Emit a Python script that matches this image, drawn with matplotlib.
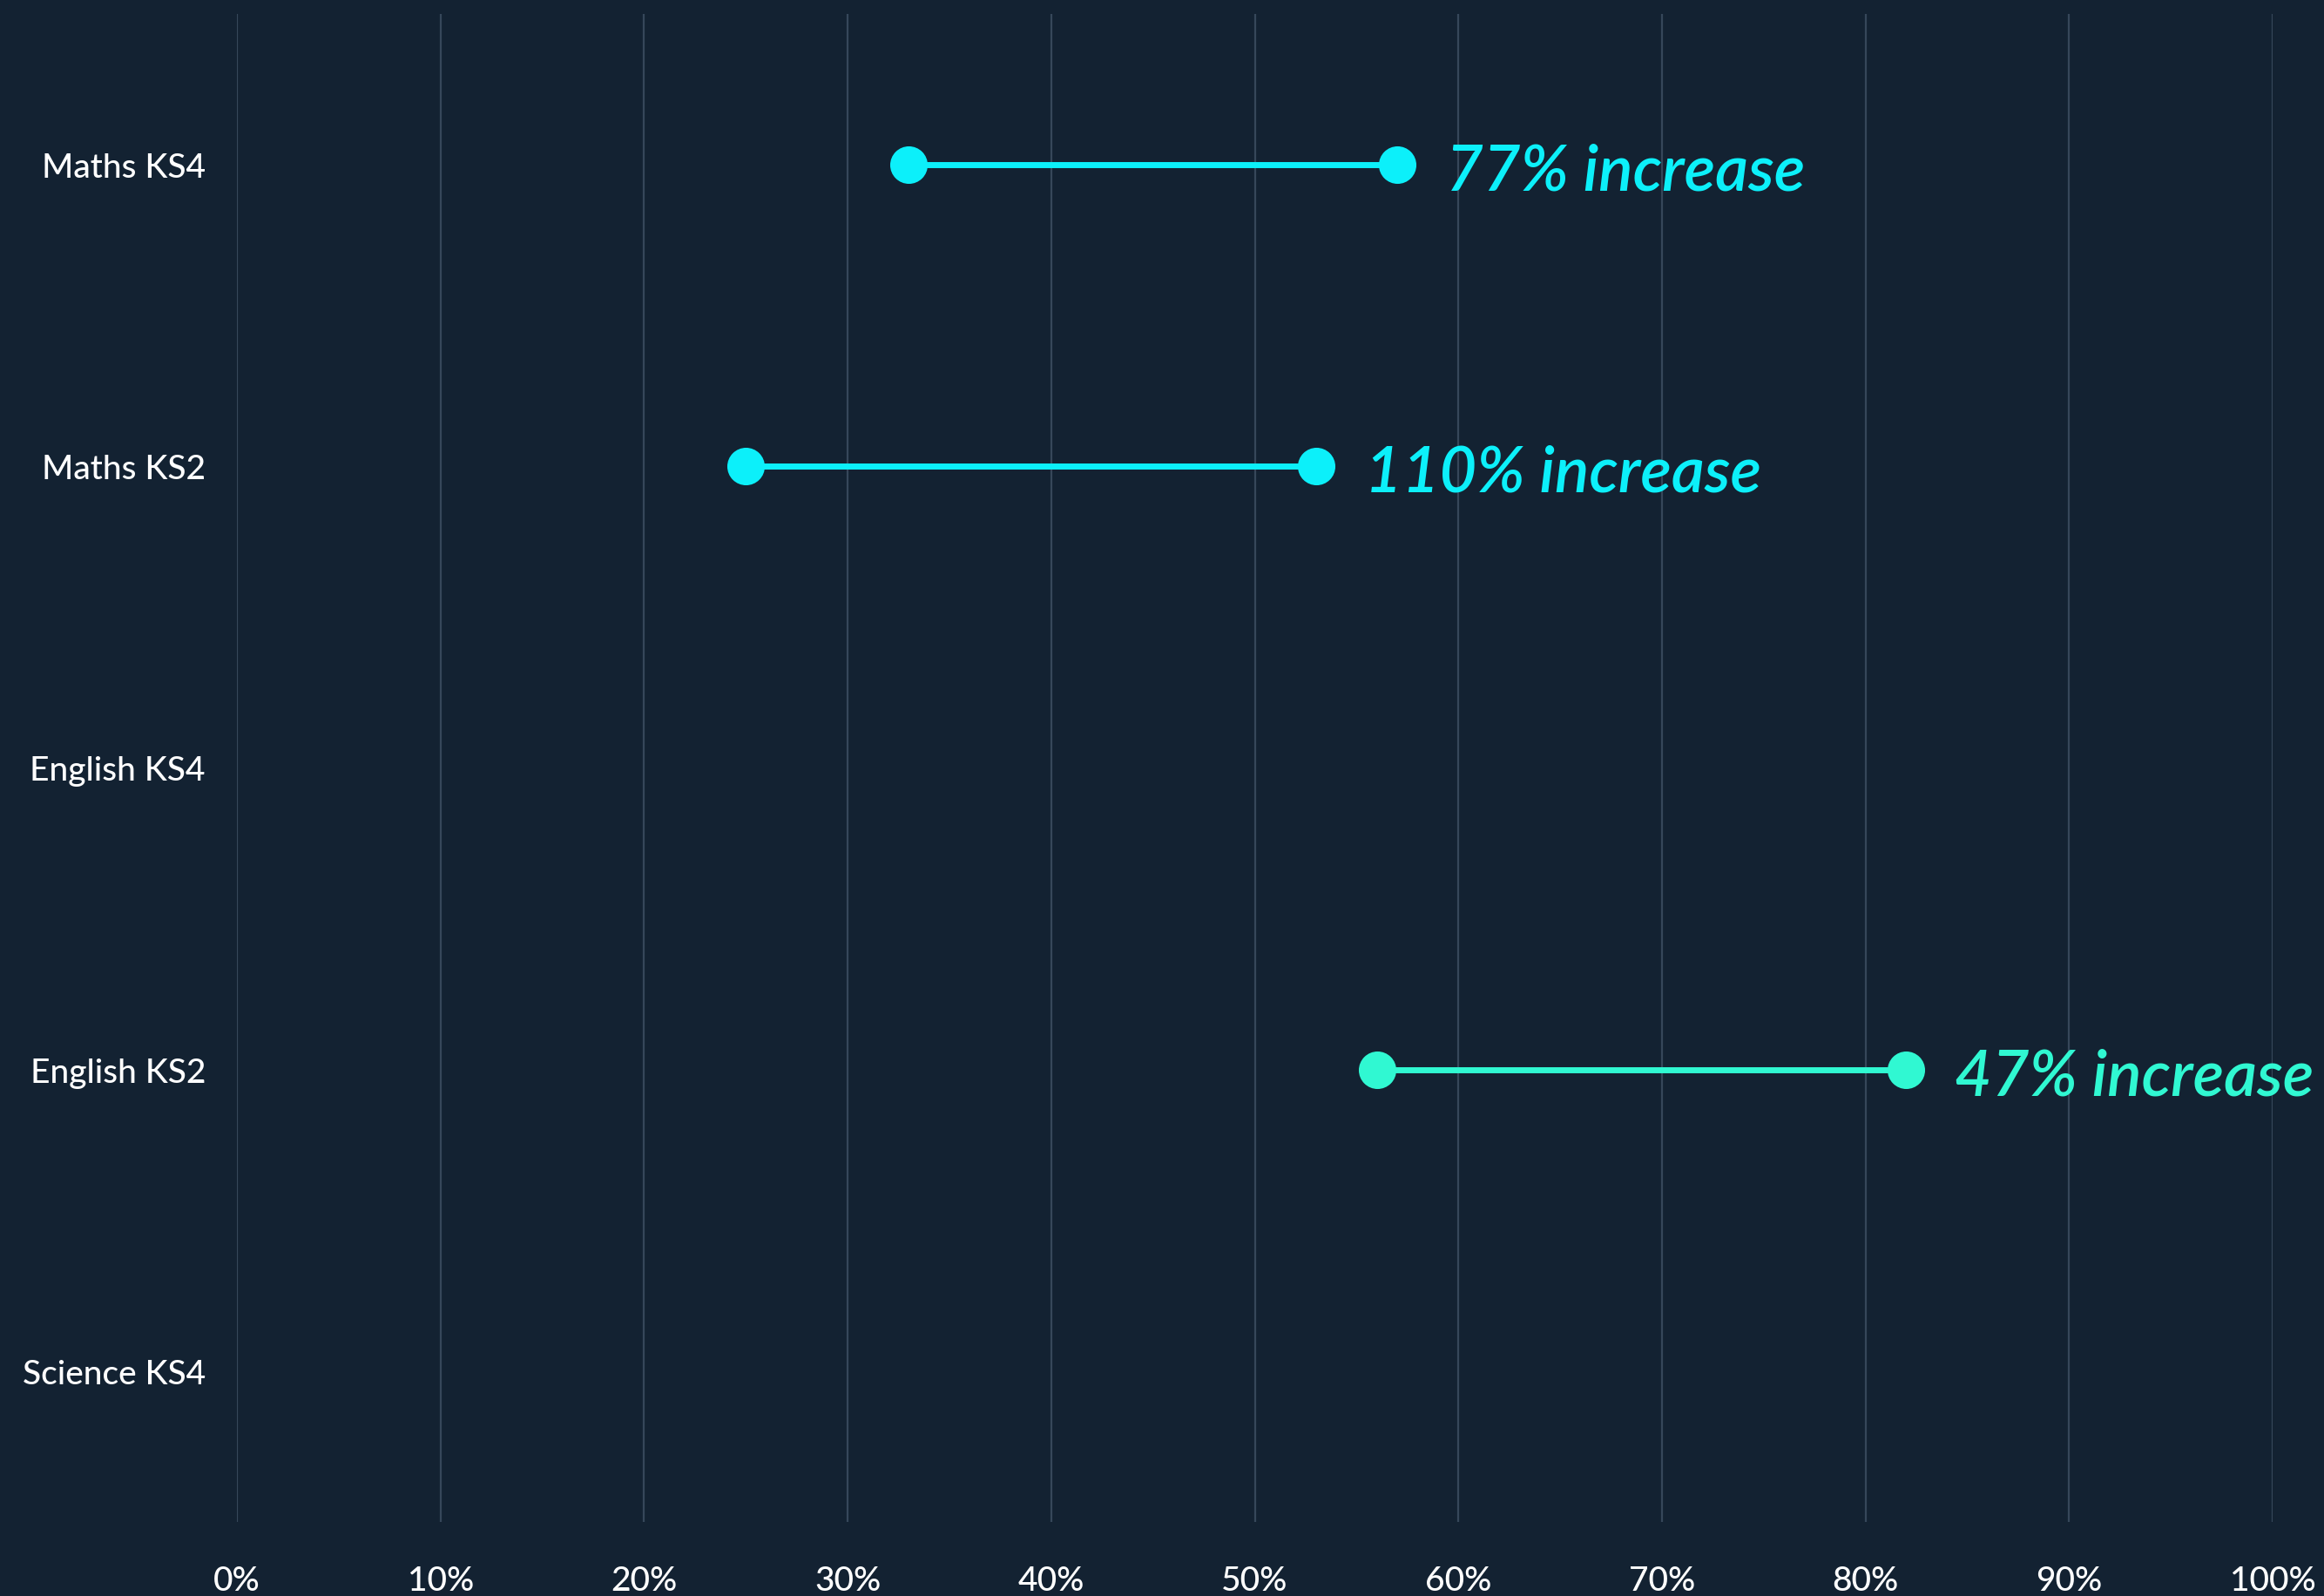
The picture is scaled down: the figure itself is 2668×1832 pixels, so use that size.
import matplotlib.pyplot as plt
from matplotlib.ticker import PercentFormatter

# subjects, top to bottom
subjects = ["Maths KS4", "Maths KS2", "English KS4", "English KS2", "Science KS4"]

# attainment before / after (percent); None where no data is shown
before = [33, 25, None, 56, None]
after = [57, 53, None, 82, None]
labels = ["77% increase", "110% increase", None, "47% increase", None]
colors = ["#0cf0fa", "#0cf0fa", None, "#30f8d2", None]

BG = "#132232"
GRID = "#36475a"

fig = plt.figure(figsize=(26.68, 18.33), dpi=100, facecolor=BG)
ax = fig.add_axes([0.10195, 0.04637, 0.87594, 0.94436], facecolor=BG)

ypos = list(range(len(subjects)))

for y, lo, hi, lab, col in zip(ypos, before, after, labels, colors):
    if lo is None:
        continue
    ax.plot([lo, hi], [y, y], color=col, lw=5, solid_capstyle="butt", zorder=3)
    ax.scatter([lo, hi], [y, y], s=31**2, color=col, zorder=4, linewidths=0)
    ax.annotate(lab, xy=(hi, y), xytext=(56, -8), textcoords="offset pixels",
                ha="left", va="center", color=col, fontsize=53,
                family="Lato", style="italic", weight="semibold",
                annotation_clip=False)

ax.set_xlim(0, 100)
ax.set_xticks(range(0, 101, 10))
ax.xaxis.set_major_formatter(PercentFormatter(decimals=0))
ax.set_ylim(len(subjects) - 0.5, -0.5)
ax.set_yticks(ypos)
ax.set_yticklabels(subjects)

ax.grid(axis="x", color=GRID, lw=1.6)
ax.set_axisbelow(True)
for s in ax.spines.values():
    s.set_visible(False)

ax.tick_params(axis="both", length=0, colors="white", labelsize=28)
ax.tick_params(axis="y", pad=26)
ax.tick_params(axis="x", pad=36)
for t in ax.get_xticklabels() + ax.get_yticklabels():
    t.set_family("Lato")
    t.set_weight("medium")

fig.savefig("out.png", dpi=100, facecolor=BG)
